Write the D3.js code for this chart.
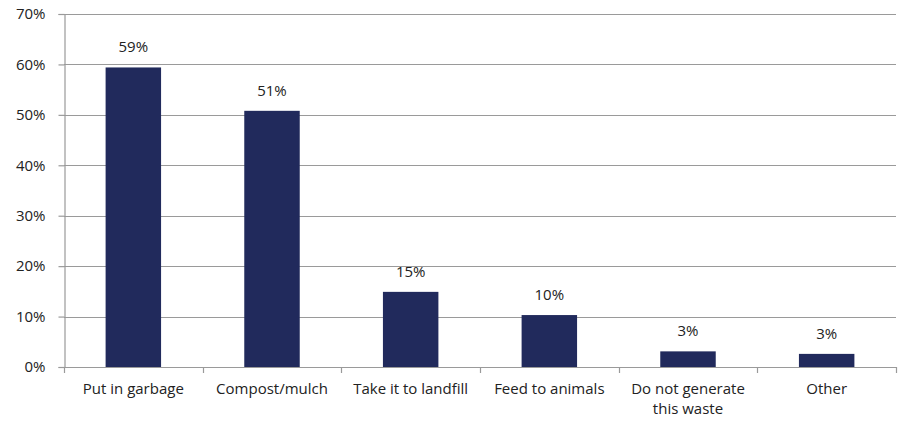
<!DOCTYPE html>
<html>
<head>
<meta charset="utf-8">
<script src="https://cdn.jsdelivr.net/npm/d3@7"></script>
<style>
  html, body { margin: 0; padding: 0; background: #fff; }
  svg { display: block; }
  text { font-family: "Open Sans", "Liberation Sans", sans-serif; fill: #222; }
</style>
</head>
<body>
<svg id="chart" width="903" height="423"></svg>
<script>
// Waste disposal methods, share of respondents (%)
const categories = ["Put in garbage", "Compost/mulch", "Take it to landfill", "Feed to animals", "Do not generate this waste", "Other"];
const values = [59.4, 50.8, 14.9, 10.3, 3.1, 2.6];
const yTicks = [0, 10, 20, 30, 40, 50, 60, 70];

const svg = d3.select("#chart");
const margin = { left: 64, right: 7, top: 14, bottom: 56 };
const width = 903, height = 423;
const fontSize = "15px";

const x = d3.scaleBand()
  .domain(categories)
  .range([margin.left, width - margin.right])
  .paddingInner(0.6)
  .paddingOuter(0.3);

const y = d3.scaleLinear()
  .domain([0, 70])
  .range([height - margin.bottom, margin.top]);

const gridColor = "#9a9a9a";

// horizontal gridlines
svg.append("g")
  .selectAll("line")
  .data(yTicks.filter(d => d > 0))
  .join("line")
  .attr("x1", margin.left)
  .attr("x2", width - margin.right)
  .attr("y1", d => Math.round(y(d)) + 0.5)
  .attr("y2", d => Math.round(y(d)) + 0.5)
  .attr("stroke", gridColor)
  .attr("stroke-width", 1.2);

// y axis
const yAxis = svg.append("g")
  .attr("transform", `translate(${margin.left + 0.5},0)`)
  .call(d3.axisLeft(y).tickValues(yTicks).tickFormat(d => d + "%").tickSize(6).tickPadding(13));
yAxis.selectAll("path, line").attr("stroke", gridColor).attr("stroke-width", 1.2);
yAxis.selectAll("text").style("font-size", fontSize).attr("fill", "#222");

// bars
svg.append("g")
  .selectAll("rect")
  .data(values)
  .join("rect")
  .attr("x", (d, i) => x(categories[i]))
  .attr("width", x.bandwidth())
  .attr("y", d => y(d))
  .attr("height", d => y(0) - y(d))
  .attr("fill", "#212a5c");

// value labels
svg.append("g")
  .selectAll("text")
  .data(values)
  .join("text")
  .attr("x", (d, i) => x(categories[i]) + x.bandwidth() / 2)
  .attr("y", d => y(d) - 15)
  .attr("text-anchor", "middle")
  .style("font-size", fontSize)
  .text(d => Math.round(d) + "%");

// x axis baseline with ticks at category boundaries
const baseY = Math.round(y(0));
const xAxisG = svg.append("g");
xAxisG.append("line")
  .attr("x1", margin.left)
  .attr("x2", width - margin.right)
  .attr("y1", baseY + 0.5)
  .attr("y2", baseY + 0.5)
  .attr("stroke", gridColor)
  .attr("stroke-width", 1.2);
const edges = [margin.left].concat(
  categories.slice(1).map(c => x(c) - x.step() * x.paddingInner() / 2),
  [width - margin.right]
);
xAxisG.selectAll("line.tick")
  .data(edges)
  .join("line")
  .attr("class", "tick")
  .attr("x1", d => Math.round(d) + 0.5)
  .attr("x2", d => Math.round(d) + 0.5)
  .attr("y1", baseY)
  .attr("y2", baseY + 6)
  .attr("stroke", gridColor)
  .attr("stroke-width", 1.2);

// category labels (wrapped where needed)
const wrapped = { "Do not generate this waste": ["Do not generate", "this waste"] };
const catLabels = svg.append("g")
  .selectAll("text")
  .data(categories)
  .join("text")
  .attr("x", d => x(d) + x.bandwidth() / 2)
  .attr("y", y(0) + 27)
  .attr("text-anchor", "middle")
  .style("font-size", fontSize);
catLabels.each(function(d) {
  const lines = wrapped[d] || [d];
  const t = d3.select(this);
  lines.forEach((ln, k) => {
    t.append("tspan")
      .attr("x", x(d) + x.bandwidth() / 2)
      .attr("dy", k === 0 ? 0 : 20)
      .text(ln);
  });
});
</script>
</body>
</html>
